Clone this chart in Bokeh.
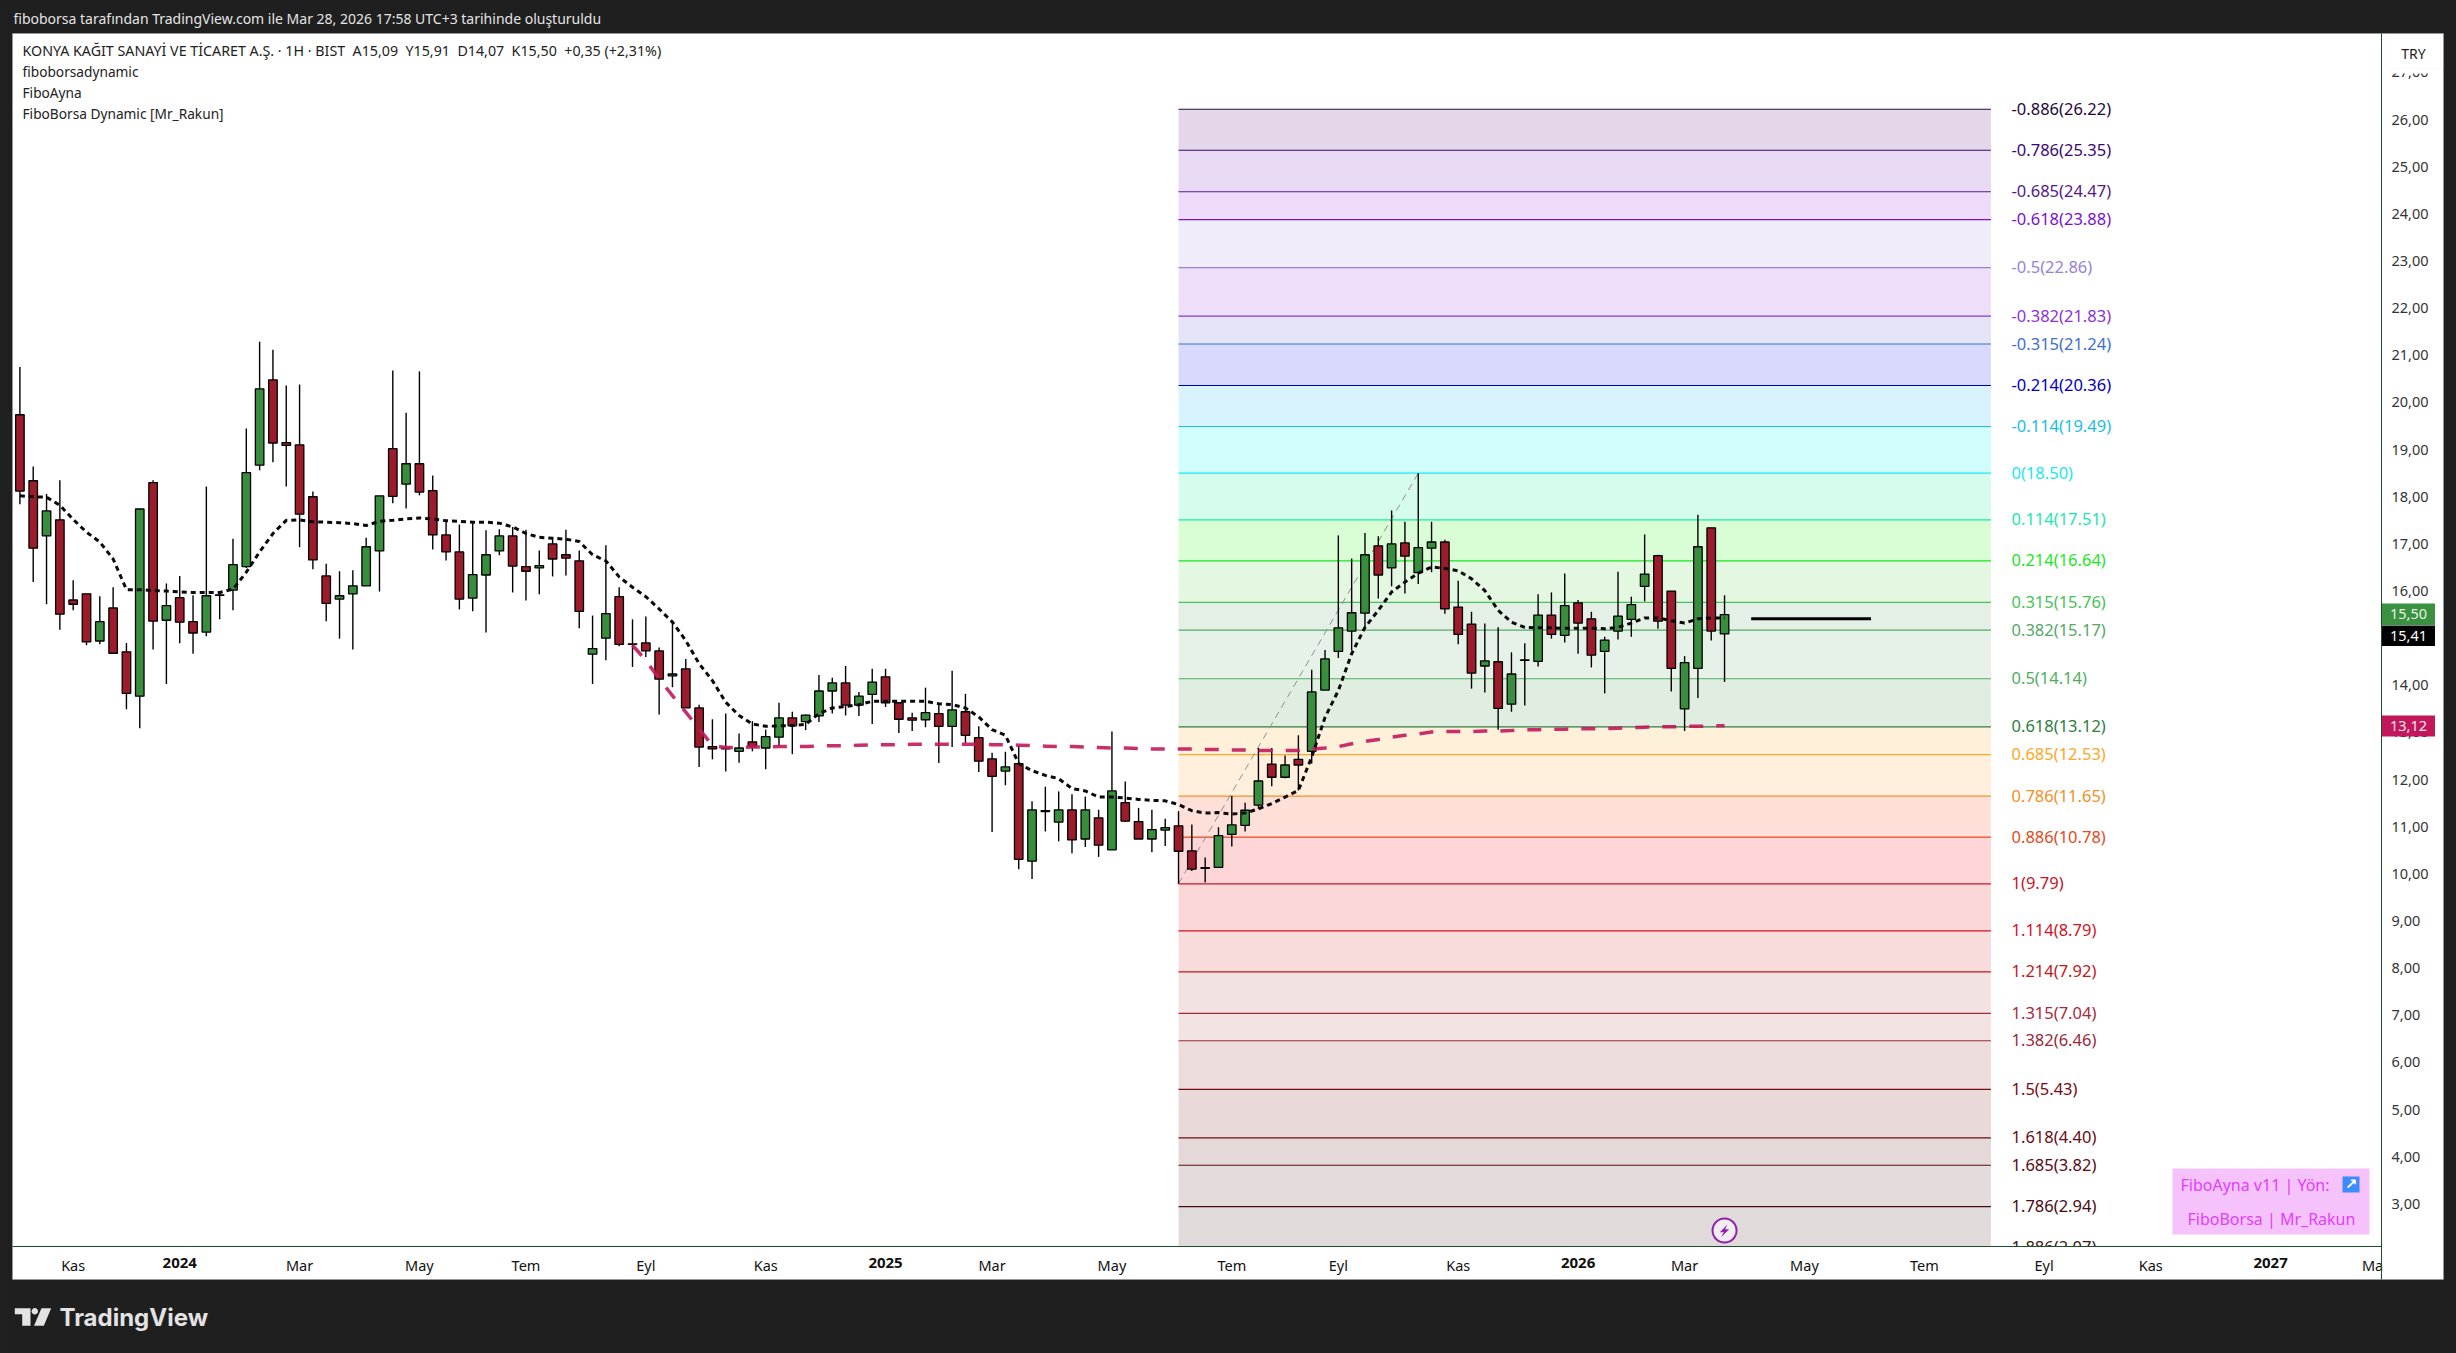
from bokeh.plotting import figure
from bokeh.models import (ColumnDataSource, FixedTicker, Label, BoxAnnotation, PolyAnnotation)
from bokeh.core.properties import value
from bokeh.embed import file_html
from bokeh.resources import INLINE
import math

# ---------- data ----------
opens = [19.74,18.34,17.17,17.51,15.81,15.94,14.94,15.64,14.71,13.77,
18.30,15.38,15.86,15.35,15.13,15.91,16.02,16.52,18.67,20.48,
19.15,19.10,18.00,16.32,15.83,15.94,16.11,16.85,19.02,18.27,
18.70,18.13,17.19,16.83,15.85,16.34,16.85,17.17,16.52,16.49,
17.00,16.77,16.64,14.66,15.00,15.88,
14.87,14.90,14.73,14.20,14.35,13.52,12.70,12.67,12.60,12.80,12.67,12.90,13.31,13.23,13.35,13.88,14.05,13.58,13.81,14.18,13.63,13.31,13.27,13.40,13.13,13.44,12.89,12.44,12.18,12.34,10.27,11.34,11.10,11.36,10.74,11.19,10.51,11.51,11.11,10.74,10.93,11.02,
10.49,10.12,10.14,10.84,11.03,11.46,12.33,12.05,12.43,12.60,13.90,14.72,15.15,15.53,16.96,16.49,17.02,16.39,16.91,17.04,15.66,15.30,14.41,14.50,13.60,14.53,14.51,15.49,15.06,15.75,15.41,14.72,15.15,15.40,16.10,16.75,16.00,13.50,14.36,17.34,15.09]
closes = [18.12,16.91,17.70,15.51,15.72,14.92,15.35,14.68,13.83,17.74,
15.36,15.69,15.34,15.11,15.90,15.92,16.56,18.51,20.29,19.14,
19.09,17.63,16.66,15.74,15.90,16.11,16.94,18.02,18.01,18.70,
18.10,17.19,16.83,15.83,16.35,16.77,17.17,16.53,16.42,16.54,
16.68,16.70,15.57,14.78,15.52,14.87,
14.88,14.73,14.13,14.24,13.52,12.69,12.65,12.65,12.67,12.70,12.91,13.31,13.14,13.37,13.88,14.05,13.58,13.77,14.07,13.63,13.28,13.26,13.42,13.13,13.48,12.94,12.39,12.07,12.27,10.31,11.36,11.32,11.36,10.72,11.36,10.61,11.76,11.12,10.74,10.94,10.98,10.48,
10.10,10.13,10.81,11.04,11.35,11.97,12.05,12.31,12.31,13.86,14.56,15.22,15.54,16.77,16.34,17.00,16.74,16.92,17.04,15.62,15.08,14.26,14.52,13.51,14.24,14.54,15.49,15.08,15.69,15.32,14.64,14.96,15.47,15.71,16.36,15.36,14.36,14.48,16.94,15.15,15.50]
highs = [20.75,18.64,18.06,18.35,16.23,15.94,15.89,16.08,14.90,17.74,18.35,16.16,16.32,15.91,18.22,15.97,17.11,19.45,21.29,21.12,20.36,20.38,18.11,16.58,16.42,16.44,17.13,18.02,20.68,19.78,20.66,18.45,17.50,17.41,17.48,17.29,17.31,17.36,17.30,16.86,17.14,17.30,16.86,15.48,16.97,16.08,
15.40,15.46,14.80,15.34,14.56,13.59,13.28,13.40,12.98,13.24,13.06,13.63,13.44,13.38,14.22,14.16,14.41,13.86,14.35,14.35,13.64,13.42,13.95,13.61,14.31,13.82,13.13,12.57,12.59,12.72,11.54,11.85,11.75,11.69,11.64,11.36,13.02,11.96,11.40,11.36,11.17,11.33,
11.05,10.35,10.99,11.65,11.51,12.67,12.67,12.51,12.94,14.33,14.75,17.18,16.69,17.23,17.16,17.71,17.47,18.50,17.47,17.09,16.22,15.56,15.31,15.23,14.70,14.89,15.93,15.97,16.37,15.81,15.56,15.03,16.41,15.88,17.20,16.77,16.00,14.62,17.62,17.34,15.91]
lows = [17.84,16.19,15.72,15.18,15.59,14.85,14.87,14.68,13.49,13.09,14.76,14.03,14.89,14.67,15.04,15.40,15.59,16.49,18.56,18.73,18.22,16.93,16.46,15.36,14.99,14.76,16.11,15.99,17.86,17.75,18.03,16.88,16.65,15.61,15.57,15.12,16.76,15.97,15.80,15.93,16.31,16.33,15.21,14.03,14.53,14.83,
14.39,14.60,13.38,13.96,13.52,12.27,12.43,12.17,12.36,12.60,12.22,12.71,12.54,13.05,13.22,13.40,13.36,13.35,13.18,13.54,12.99,13.03,13.11,12.35,12.69,12.78,12.16,10.89,11.88,10.10,9.89,10.90,10.69,10.44,10.57,10.36,10.51,11.10,10.74,10.46,10.59,9.79,
10.06,9.82,10.13,10.58,10.90,11.38,11.86,12.03,11.77,12.34,13.90,14.58,14.74,15.23,15.84,16.10,15.95,16.15,16.40,15.52,14.87,13.93,13.85,13.06,13.44,13.57,14.40,14.99,14.91,14.67,14.38,13.83,14.97,15.03,15.78,15.20,13.87,13.03,13.73,14.95,14.07]

ma_black = [18.02,18.00,17.99,17.82,17.52,17.25,17.04,16.68,16.03,16.03,16.01,16.00,15.98,15.97,15.97,15.97,16.04,16.40,16.83,17.22,17.50,17.51,17.47,17.46,17.45,17.43,17.39,17.48,17.50,17.53,17.55,17.53,17.49,17.48,17.46,17.46,17.44,17.36,17.22,17.14,17.12,17.10,17.05,16.77,16.64,16.30,
16.08,15.88,15.62,15.34,14.95,14.46,14.10,13.64,13.36,13.18,13.13,13.14,13.15,13.17,13.40,13.52,13.55,13.59,13.66,13.66,13.66,13.66,13.66,13.61,13.59,13.52,13.33,13.06,12.94,12.34,12.19,12.09,12.02,11.81,11.76,11.63,11.63,11.61,11.58,11.56,11.55,11.47,
11.34,11.29,11.30,11.27,11.29,11.38,11.49,11.63,11.77,12.48,13.32,13.89,14.67,15.23,15.59,15.98,16.19,16.38,16.51,16.48,16.43,16.26,16.01,15.59,15.34,15.23,15.22,15.22,15.21,15.21,15.21,15.20,15.23,15.32,15.43,15.43,15.37,15.32,15.41,15.43,15.43]
ma_red_start = 46
ma_red = [14.85,14.53,14.14,13.78,13.43,13.08,12.72,12.68,12.68,12.69,12.69,12.70,12.70,12.70,12.71,12.72,12.72,12.73,12.74,12.74,12.74,12.75,12.75,12.75,12.75,12.75,12.75,12.74,12.74,12.73,12.72,12.71,12.70,12.70,12.69,12.68,12.67,12.67,12.66,12.65,12.65,12.65,
12.65,12.64,12.64,12.63,12.63,12.62,12.62,12.62,12.62,12.65,12.67,12.70,12.76,12.81,12.85,12.90,12.94,12.97,13.01,13.02,13.02,13.02,13.03,13.03,13.04,13.06,13.06,13.07,13.07,13.08,13.08,13.08,13.09,13.10,13.11,13.12,13.12,13.13,13.13,13.14,13.14]

fib_levels = ["-0.886","-0.786","-0.685","-0.618","-0.5","-0.382","-0.315","-0.214","-0.114","0","0.114","0.214","0.315","0.382","0.5","0.618","0.685","0.786","0.886","1","1.114","1.214","1.315","1.382","1.5","1.618","1.685","1.786","1.886"]
fib_prices = [26.22,25.35,24.47,23.88,22.86,21.83,21.24,20.36,19.49,18.50,17.51,16.64,15.76,15.17,14.14,13.12,12.53,11.65,10.78,9.79,8.79,7.92,7.04,6.46,5.43,4.40,3.82,2.94,2.07]
fib_colors = ["#1f0a3a","#3a0a78","#551a8b","#7b12d0","#9a82d2","#8e32d6","#3f6fd1","#0000c0","#19bde8","#19e8f5","#19e8ad","#19e81e","#46c45a","#55a868","#4caf60","#2e7d42","#ffa726","#f39028","#e64a1e","#c81428","#d01426","#c2181e","#a82a3a","#9a2a3a","#7a0a14","#6a0a14","#5a0a14","#4a0a14","#3a1a14"]
fib_bands = ["#e4d7ea","#e8daf2","#efdcfb","#f0ecf8","#eddffa","#e4e4f7","#d9d9fd","#d8f3fd","#d2fdfd","#d6fdec","#d9fdd5","#e3f7e1","#e4f0e5","#e6f2e8","#e0eee2","#fff0da","#ffefdc","#ffe0d9","#ffd6d8","#fcd7d8","#f8dcdc","#f3e2e2","#f4e3e3","#ecdcdc","#ead9d9","#e5d8d8","#e4dbdb","#e0dada"]
fib_start, fib_end, fib_label_x = 87, 148, 149.55
swing_x = [87, 105]
swing_y = [9.79, 18.50]
pivot_x = [130, 139]
pivot_y = [15.41, 15.41]

month_ticks = [4,21,30,38,47,56,73,82,91,99,108,125,134,143,152,160,176.66]
month_labels = ["Kas","Mar","May","Tem","Eyl","Kas","Mar","May","Tem","Eyl","Kas","Mar","May","Tem","Eyl","Kas","Ma"]
year_ticks = [12,65,117,169]
year_labels = ["2024","2025","2026","2027"]
price_ticks = list(range(3,28))

FONT = "Noto Sans"
DARK = "#1f1f1f"
NB = "\u00a0"
AXIS_LINE = "#1e4d2b"

# ---------- geometry of the reference page ----------
CX0, CX1 = -0.556, 177.33      # bars at the chart pane's left and right edges
CY1, CY0 = 27.827, 2.096       # prices at the chart pane's top and bottom edges
F_L, F_R, F_T, F_B = 12.0, 2381.0, 33.0, 1246.0
W, H = 2456, 1353
def dx(px): return CX0 + (px - F_L) / (F_R - F_L) * (CX1 - CX0)
def dy(py): return CY1 - (py - F_T) / (F_B - F_T) * (CY1 - CY0)

# the plot frame covers the whole page, so that every strip and text can be drawn
p = figure(width=W, height=H, output_backend="svg", toolbar_location=None,
           x_range=(dx(0), dx(W)), y_range=(dy(H), dy(0)), y_axis_location="right",
           min_border_left=0, min_border_right=0, min_border_top=0, min_border_bottom=0,
           background_fill_color=DARK, border_fill_color=DARK, outline_line_color=None)
p.grid.visible = False

def box(l, r, t, b, color, line=None, level="underlay"):
    p.add_layout(BoxAnnotation(left=l, right=r, top=t, bottom=b,
                               left_units="canvas", right_units="canvas", top_units="canvas", bottom_units="canvas",
                               fill_color=color, fill_alpha=1.0, line_color=line,
                               level=level, editable=False))
def label(px, py, text, size, color, align="left", style="normal", font=FONT, level="annotation"):
    p.add_layout(Label(x=px, y=py, x_units="canvas", y_units="canvas", text=text, text_font=font, text_font_size=f"{size}px",
                       text_color=color, text_align=align, text_baseline="middle",
                       text_font_style=style, level=level))
def poly(pts, color):
    p.add_layout(PolyAnnotation(xs=[a for a, _ in pts], ys=[b for _, b in pts], xs_units="canvas", ys_units="canvas",
                                fill_color=color, fill_alpha=1.0, line_color=color, line_alpha=0.0,
                                level="annotation"))

# white pane with its grey edge
box(12, 2443, 33, 1279, "white", "#a8a8a8")

# axes, fixed at the pane's own edges
ax = p.xaxis[0]
ax.fixed_location = dy(F_B)
ax.bounds = (dx(F_L), dx(F_R))
ax.ticker = FixedTicker(ticks=month_ticks)
ax.major_label_overrides = dict(zip(month_ticks, month_labels))
ax.major_tick_out = 0; ax.major_tick_in = 0; ax.minor_tick_out = 0; ax.minor_tick_in = 0
ax.axis_line_color = AXIS_LINE
ax.major_label_text_font = FONT
ax.major_label_text_font_size = "14.5px"
ax.major_label_text_color = "#111111"
ax.major_label_standoff = 8

ay = p.yaxis[0]
ay.fixed_location = dx(F_R)
ay.bounds = (dy(1279), dy(F_T))
ay.ticker = FixedTicker(ticks=price_ticks)
ay.major_label_overrides = {t: f"{t},00" for t in price_ticks}
ay.major_tick_out = 0; ay.major_tick_in = 0; ay.minor_tick_out = 0; ay.minor_tick_in = 0
ay.axis_line_color = AXIS_LINE
ay.major_label_text_font = FONT
ay.major_label_text_font_size = "14.5px"
ay.major_label_text_color = "#333333"
ay.major_label_standoff = 10

# fibo bands and levels
p.quad(left=fib_start, right=fib_end, top=fib_prices[:-1], bottom=fib_prices[1:],
       fill_color=fib_bands, line_color=None)
p.segment(x0=fib_start, x1=fib_end, y0=fib_prices, y1=fib_prices, line_color=fib_colors, line_width=1.2)
fib_src = ColumnDataSource(dict(x=[fib_label_x] * len(fib_levels), y=fib_prices,
                                t=[f"{a}({b:.2f})" for a, b in zip(fib_levels, fib_prices)], c=fib_colors))
p.text(x="x", y="y", text="t", text_color="c", source=fib_src, text_font=value(FONT),
       text_font_size="16.5px", text_baseline="middle", text_align="left", y_offset=-1)

# swing diagonal
p.line(swing_x, swing_y, line_color="#8f8f8f", line_width=1, line_dash="7 5")

# candles
idx = list(range(len(opens)))
src = ColumnDataSource(dict(x=idx, o=opens, c=closes, h=highs, l=lows,
                            col=["#388e3c" if b >= a else "#9c1c2c" for a, b in zip(opens, closes)]))
p.segment(x0="x", x1="x", y0="l", y1="h", line_color="black", line_width=1.4, source=src)
p.vbar(x="x", width=0.64, top="o", bottom="c", fill_color="col", line_color="black", line_width=1.3, source=src)

# indicator lines
p.line(list(range(ma_red_start, ma_red_start + len(ma_red))), ma_red, line_color="#c2185b",
       line_width=3.5, line_dash="14 13", line_alpha=0.9)
p.line(idx, ma_black, line_color="#0a0a0a", line_width=3, line_dash="5 4")
p.line(pivot_x, pivot_y, line_color="black", line_width=3)

# time-scale strip hides whatever runs below the pane (above the glyphs, below the axis)
box(12.5, 2380.5, 1246.5, 1278.5, "white", level="glyph")

# year labels on the time scale
for t, s in zip(year_ticks, year_labels):
    label(F_L + (t - CX0) / (CX1 - CX0) * (F_R - F_L), 1262, s, 15, "#111111", align="center", style="bold")

# header and legend
label(13, 18, "fiboborsa tarafından TradingView.com ile Mar 28, 2026 17:58 UTC+3 tarihinde oluşturuldu", 14, "#e4e4e4")
label(22, 50, f"KONYA KAĞIT SANAYİ VE TİCARET A.Ş. · 1H · BIST{NB} A15,09{NB} Y15,91{NB} D14,07{NB} K15,50{NB} +0,35 (+2,31%)", 14.25, "#222222")
label(22, 71, "fiboborsadynamic", 13.7, "#222222")
label(22, 92, "FiboAyna", 13.7, "#222222")
label(22, 113, "FiboBorsa Dynamic [Mr_Rakun]", 13.7, "#222222")

# TRY box, with the cover that cuts off the tick label behind it
box(2382, 2442.5, 34, 73, "white", level="annotation")
box(2386, 2440, 38, 68, "white", "#f0f0f0", level="annotation")
label(2413, 53, "TRY", 14, "#222222", align="center")

# price tags
box(2381.5, 2434.5, 603, 624.5, "#3a913f", level="annotation")
label(2408, 613.6, "15,50", 14.5, "#e8f5e9", align="center")
box(2381.5, 2434.5, 625, 645.5, "#000000", level="annotation")
label(2408, 635, "15,41", 14.5, "#ffffff", align="center")
box(2381.5, 2434.5, 715, 736, "#c2185b", level="annotation")
label(2408, 725.5, "13,12", 14.5, "#fde4ef", align="center")

# FiboAyna table
box(2172, 2369, 1168, 1234, "#f5c2fb", level="annotation")
label(2180, 1184, "FiboAyna v11 | Yön:", 16, "#e040fb")
box(2342, 2359, 1176, 1192, "#3d8bfd", level="annotation")
label(2350.5, 1183.5, "↗", 15, "#ffffff", align="center", font="DejaVu Sans", style="bold")
label(2187, 1218, "FiboBorsa | Mr_Rakun", 16, "#e040fb")

# flash marker
p.scatter(x=[128], y=[dy(1230)], marker="circle", size=24, fill_color="#f3ecf4",
          line_color="#8e24aa", line_width=2)
poly([(1660 + a / 3, 1190 + b / 3) for a, b in [(200,103),(178,125),(190,125),(182,140),(206,116),(194,116)]], "#8e24aa")

# TradingView footer mark
poly([(14.3,1307.7),(30,1307.7),(30,1325.3),(21.7,1325.3),(21.7,1313.7),(14.3,1313.7)], "#e3e3e3")
poly([(34.3 + 3.2 * math.cos(k * math.pi / 8), 1310.8 + 3.2 * math.sin(k * math.pi / 8)) for k in range(16)], "#e3e3e3")
poly([(41,1307.7),(50.7,1307.7),(43.3,1325.3),(33.5,1325.3)], "#e3e3e3")
label(59, 1317, "TradingView", 24, "#e3e3e3", font="Inter", style="bold")

html = file_html(p, INLINE)
html = html.replace("<head>", "<head><style>html,body{background:#1f1f1f;overflow:hidden}</style>", 1)
open("out.html", "w").write(html)
